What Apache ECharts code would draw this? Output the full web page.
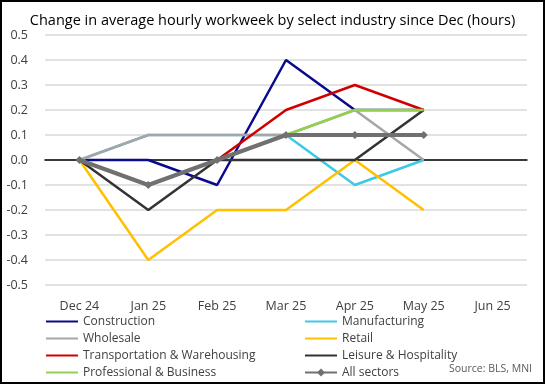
<!DOCTYPE html>
<html><head><meta charset="utf-8">
<script src="https://cdn.jsdelivr.net/npm/echarts@6/dist/echarts.min.js"></script>
<style>html,body{margin:0;padding:0;background:#fff}#c{width:545px;height:384px}</style>
</head><body><div id="c"></div>
<script>
const categories = ['Dec 24','Jan 25','Feb 25','Mar 25','Apr 25','May 25','Jun 25'];
const construction   = [0, 0, -0.1, 0.4, 0.2, 0.2];
const manufacturing  = [0, 0.1, 0.1, 0.1, -0.1, 0];
const wholesale      = [0, 0.1, 0.1, 0.1, 0.2, 0];
const retail         = [0, -0.4, -0.2, -0.2, 0, -0.2];
const transportation = [0, -0.1, 0, 0.2, 0.3, 0.2];
const leisure        = [0, -0.2, 0, 0, 0, 0.2];
const professional   = [0, -0.1, 0, 0.1, 0.2, 0.2];
const allSectors     = [0, -0.1, 0, 0.1, 0.1, 0.1];
const yTicks = [-0.5,-0.4,-0.3,-0.2,-0.1,0,0.1,0.2,0.3,0.4,0.5];

const font = 'Open Sans';
function line(name, data, color, w) {
  return {name, type:'line', data, symbol:'none', showSymbol:false,
    lineStyle:{color, width:w||2.5}, itemStyle:{color}, emphasis:{disabled:true}, animation:false};
}
const series = [
  line('Construction', construction, '#0A0A8C'),
  line('Manufacturing', manufacturing, '#3CC8E8'),
  line('Wholesale', wholesale, '#A6A6A6'),
  line('Retail', retail, '#FFC000'),
  line('Transportation & Warehousing', transportation, '#D00000'),
  line('Leisure & Hospitality', leisure, '#333333'),
  line('Professional & Business', professional, '#92D050'),
  {name:'All sectors', type:'line', data:allSectors, symbol:'diamond', symbolSize:8,
   lineStyle:{color:'#707070', width:4}, itemStyle:{color:'#707070'}, emphasis:{disabled:true}, animation:false}
];
const chart = echarts.init(document.getElementById('c'), null, {renderer:'canvas'});
const legText = {fontFamily:font, fontSize:12, color:'#404040', lineHeight:13};
const plain = n => ({name:n, itemStyle:{opacity:0}});
const legCommon = {orient:'vertical', top:315, height:68, itemWidth:32, itemHeight:10, itemGap:4,
  padding:0, textStyle:legText, selectedMode:false};
chart.setOption({
  animation:false,
  title:{text:'Change in average hourly workweek by select industry since Dec (hours)',
    left:'center', top:8, textStyle:{fontFamily:font, fontSize:14.5, fontWeight:'normal', color:'#000'}},
  grid:{left:45, right:18, top:35, bottom:99, containLabel:false},
  xAxis:{type:'category', data:categories, boundaryGap:true,
    axisLine:{onZero:true, lineStyle:{color:'#000', width:1.5}},
    axisTick:{show:false},
    axisLabel:{fontFamily:font, fontSize:12.5, color:'#404040', margin:15},
    position:'bottom'},
  yAxis:{type:'value', min:-0.5, max:0.5, interval:0.1,
    axisLine:{show:false}, axisTick:{show:false},
    splitLine:{lineStyle:{color:'#D9D9D9', width:1.5}},
    axisLabel:{fontFamily:font, fontSize:12.5, color:'#404040', margin:17,
      formatter:v=>{const t=yTicks.find(x=>Math.abs(x-v)<1e-9); return (t===undefined?v:t).toFixed(1);}}},
  legend:[
    Object.assign({left:45,
      data:['Construction','Wholesale','Transportation & Warehousing','Professional & Business'].map(plain)}, legCommon),
    Object.assign({left:304,
      data:['Manufacturing','Retail','Leisure & Hospitality'].map(plain).concat(['All sectors'])}, legCommon)
  ],
  graphic:[
    {type:'rect', shape:{x:1,y:1,width:543,height:382}, style:{fill:'none', stroke:'#000', lineWidth:2}, z:100},
    {type:'text', right:13, top:364, style:{text:'Source: BLS, MNI', fontFamily:font, fontSize:10.5, fill:'#595959'}}
  ],
  series
});
</script></body></html>
